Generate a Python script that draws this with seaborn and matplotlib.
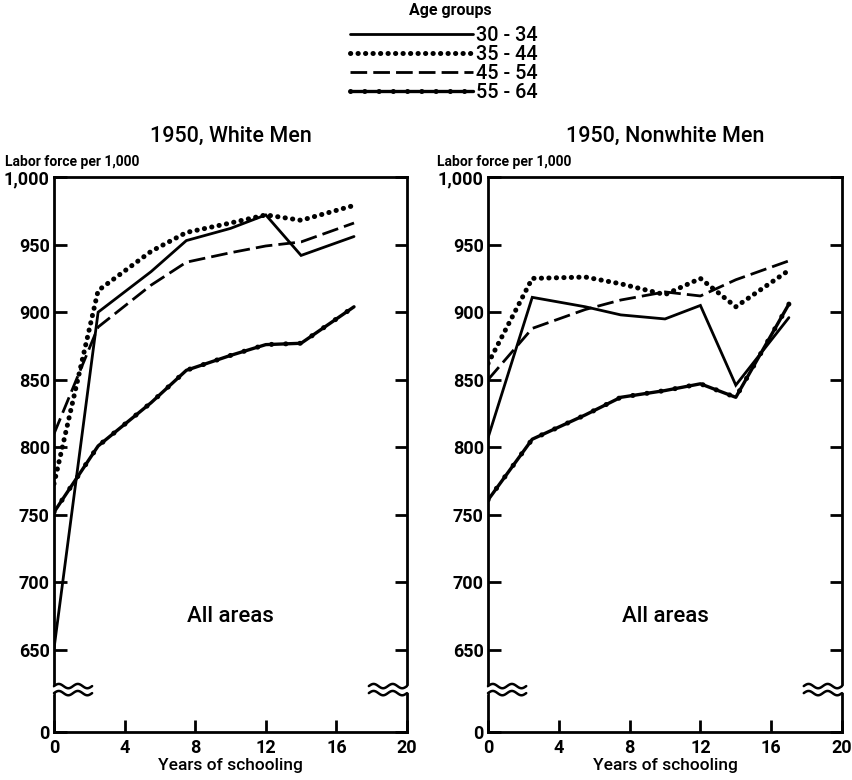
import numpy as np
import matplotlib
matplotlib.use("Agg")
import matplotlib.pyplot as plt
import seaborn as sns

sns.set_theme(style="white")
plt.rcParams['font.family'] = ['Roboto', 'DejaVu Sans']
plt.rcParams['text.color'] = 'black'

# ---- data (labor force per 1,000, by years of schooling) ----
years = [0, 2.5, 5.5, 7.5, 10, 12, 14, 17]
age_groups = ["30 - 34", "35 - 44", "45 - 54", "55 - 64"]

white_30_34 = [651, 900, 930, 953, 962, 972, 942, 956]
white_35_44 = [773, 916, 945, 959, 966, 972, 968, 979]
white_45_54 = [810, 889, 920, 937, 944, 949, 952, 966]
white_55_64 = [752, 801, 833, 857, 868, 876, 877, 904]

nonwhite_30_34 = [807, 911, 904, 898, 895, 905, 846, 896]
nonwhite_35_44 = [862, 925, 926, 921, 913, 925, 904, 931]
nonwhite_45_54 = [850, 888, 902, 909, 915, 912, 924, 938]
nonwhite_55_64 = [761, 806, 824, 837, 842, 847, 837, 906]

panels = [
    ("1950, White Men", [white_30_34, white_35_44, white_45_54, white_55_64]),
    ("1950, Nonwhite Men", [nonwhite_30_34, nonwhite_35_44, nonwhite_45_54, nonwhite_55_64]),
]

yticks_vals = [650, 700, 750, 800, 850, 900, 950, 1000]
ytick_labels = ["650", "700", "750", "800", "850", "900", "950", "1,000"]
xticks_vals = [0, 4, 8, 12, 16, 20]

# broken-axis helpers: value shown as "0" sits below the break
ZERO_POS = 589.3
BREAK_POS = 620.7

fig = plt.figure(figsize=(8.53, 7.8), dpi=100)
axes = [fig.add_axes([0.0633, 0.0615, 0.4138, 0.7115]),
        fig.add_axes([0.5721, 0.0615, 0.4150, 0.7115])]

K = "black"
handles = None
for ax, (title, series), lab_x in zip(axes, panels, [0.006, 0.512]):
    s1, s2, s3, s4 = series
    sns.lineplot(x=years, y=s1, ax=ax, color=K, lw=2.0, solid_joinstyle="miter")
    sns.lineplot(x=years, y=s2, ax=ax, color=K, lw=3.6,
                 linestyle=(0, (0.05, 1.45)), dash_capstyle="round")
    sns.lineplot(x=years, y=s3, ax=ax, color=K, lw=2.0,
                 linestyle=(0, (6, 2.2)))
    sns.lineplot(x=years, y=s4, ax=ax, color=K, lw=2.4)
    sns.lineplot(x=years, y=s4, ax=ax, color=K, lw=3.6,
                 linestyle=(0, (0.05, 2.8)), dash_capstyle="round")

    ax.set_xlim(0, 20)
    ax.set_ylim(ZERO_POS, 1000)
    ax.set_xticks(xticks_vals)
    ax.set_xticklabels([str(v) for v in xticks_vals])
    ax.set_yticks([ZERO_POS] + yticks_vals)
    ax.set_yticklabels(["0"] + ytick_labels)
    ax.tick_params(axis="y", direction="in", length=9, width=2, left=True,
                   right=True, labelsize=13, pad=3, colors=K)
    ax.tick_params(axis="x", direction="in", length=9, width=2, bottom=True,
                   top=False, labelsize=13, pad=5, colors=K)
    for lab in ax.get_xticklabels() + ax.get_yticklabels():
        lab.set_fontweight("bold")
    for sp in ax.spines.values():
        sp.set_visible(True)
        sp.set_color(K)
        sp.set_linewidth(2)
    ax.grid(False)
    ax.set_xlabel("Years of schooling", fontsize=12.5, labelpad=1, color=K,
                  fontweight="medium")
    ax.set_ylabel("")
    ax.set_title(title, fontsize=15.5, pad=25, color=K, fontweight="medium")
    fig.text(lab_x, 0.783, "Labor force per 1,000", ha="left", va="bottom",
             fontsize=10, fontweight="bold", color=K)
    ax.text(10, 675, "All areas", ha="center", va="center", fontsize=16,
            color=K, fontweight="medium")

    # axis break marks (double wavy lines) on both side spines
    t = np.linspace(0, 1, 80)
    trans = ax.get_yaxis_transform()
    for x0, x1 in [(0.0, 0.108), (0.892, 1.0)]:
        xs = x0 + (x1 - x0) * t
        wave = 1.6 * np.sin(2 * np.pi * 2.0 * t)
        xf = np.linspace(x0 - 0.012, x1 + 0.012, 80)
        wf = 1.6 * np.sin(2 * np.pi * 2.0 * (xf - x0) / (x1 - x0))
        ax.fill_between(xf, BREAK_POS - 2.6 + wf, BREAK_POS + 2.6 + wf,
                        transform=trans, color="white", zorder=3,
                        clip_on=False, lw=0)
        for off in (2.6, -2.6):
            ax.plot(xs, BREAK_POS + off + wave, transform=trans, color=K,
                    lw=1.8, clip_on=False, zorder=4)
    lines = ax.get_lines()
    handles = [lines[0], lines[1], lines[2], (lines[3], lines[4])]

fig.text(0.528, 0.987, "Age groups", ha="center", va="center",
         fontsize=11.5, fontweight="bold", color=K)
leg = fig.legend(handles, age_groups, loc="upper center",
                 bbox_to_anchor=(0.52, 0.979), frameon=False,
                 handlelength=6.2, handletextpad=0.15,
                 labelspacing=0.0, fontsize=14.3, borderpad=0.0)
for txt in leg.get_texts():
    txt.set_fontweight("medium")
    txt.set_color(K)

fig.savefig("out.png", dpi=100)
